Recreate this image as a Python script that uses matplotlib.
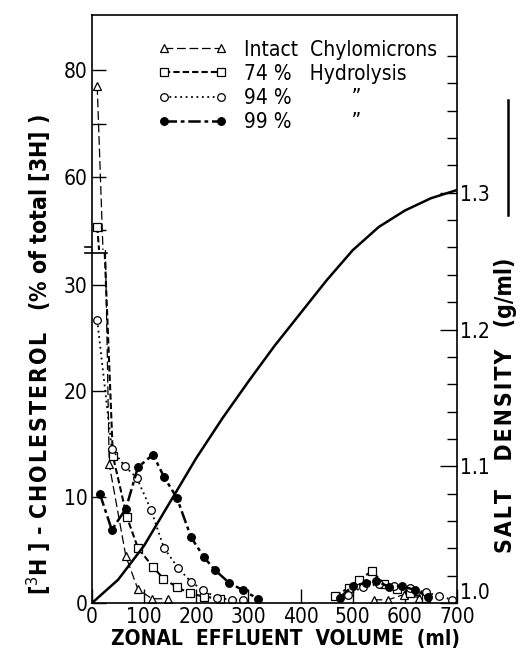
import numpy as np
import matplotlib
matplotlib.use('Agg')
import matplotlib.pyplot as plt
from matplotlib.lines import Line2D

plt.rcParams['font.family'] = ['DejaVu Sans']
plt.rcParams['font.stretch'] = 'condensed'

# ==========================================
# データ
# ==========================================
# Intact chylomicrons (△)
intact_x = [10, 33, 65, 88, 115, 146, np.nan, 540, 568, 598, 628]
intact_y = [77, 13.1, 4.4, 1.3, 0.4, 0.4, np.nan, 0.3, 0.3, 0.8, 0.5]

# 74 % hydrolysis (□)
h74_x = [10, 40, 67, 88, 117, 137, 163, 188, 215, 245, np.nan, 466, 492, 512, 537, 560, 585, 610, 640]
h74_y = [50.7, 13.9, 8.1, 5.2, 3.4, 2.3, 1.5, 0.9, 0.6, 0.4, np.nan, 0.7, 1.4, 2.2, 3.0, 1.8, 1.3, 0.9, 0.5]

# 94 % hydrolysis (○)
h94_x = [10, 38, 63, 86, 113, 138, 165, 190, 213, 240, 268, 290, np.nan,
         490, 520, 550, 580, 610, 640, 665, 690]
h94_y = [26.7, 14.5, 12.9, 11.8, 8.8, 5.2, 3.3, 2.0, 1.2, 0.5, 0.3, 0.3, np.nan,
         0.8, 1.5, 1.8, 1.6, 1.4, 1.0, 0.7, 0.3]

# 99 % hydrolysis (●)
h99_x = [15, 38, 65, 88, 117, 138, 163, 190, 215, 236, 263, 290, 318, np.nan,
         475, 500, 525, 545, 570, 595, 620, 645]
h99_y = [10.3, 6.9, 8.9, 12.8, 14.0, 11.9, 9.9, 6.2, 4.3, 3.1, 1.9, 1.2, 0.4, np.nan,
         0.5, 1.6, 1.9, 2.1, 1.5, 1.6, 1.2, 0.6]

# 塩密度勾配 (実線, 右軸)
dens_x = [0, 50, 100, 150, 200, 250, 300, 350, 400, 450, 500, 550, 600, 650, 700]
dens_y = [1.0, 1.017, 1.042, 1.074, 1.106, 1.135, 1.162, 1.188, 1.212, 1.236, 1.258, 1.275, 1.287, 1.296, 1.302]

x_ticks = [0, 100, 200, 300, 400, 500, 600, 700]

series = [
    (intact_x, intact_y, dict(marker='^', mfc='white', ls=(0, (7, 3)), lw=0.9), 'Intact  Chylomicrons'),
    (h74_x, h74_y, dict(marker='s', mfc='white', ls=(0, (3, 1.5)), lw=1.5), '74 %   Hydrolysis'),
    (h94_x, h94_y, dict(marker='o', mfc='white', ls=(0, (1, 2)), lw=1.3), '94 %          \u201d'),
    (h99_x, h99_y, dict(marker='o', mfc='black', ls=(0, (5, 1.5, 1.5, 1.5)), lw=1.8), '99 %          \u201d'),
]


def spaced(s):
    # 文字間を少し広げる (ヘアスペース)
    return '\u200a'.join(s)


# ==========================================
# レイアウト
# ==========================================
W, H = 522, 659
fig = plt.figure(figsize=(W / 100, H / 100), dpi=100)
left, right = 92 / W, 457 / W
y_bot, y_brk, y_top = 1 - 603 / H, 1 - 250 / H, 1 - 15 / H

ax_lo = fig.add_axes([left, y_bot, right - left, y_brk - y_bot])
ax_hi = fig.add_axes([left, y_brk, right - left, y_top - y_brk], sharex=ax_lo)
ax_d = fig.add_axes([left, y_bot, right - left, y_top - y_bot], sharex=ax_lo)
ax_d.patch.set_alpha(0)

for x, y, st, lab in series:
    for ax in (ax_lo, ax_hi):
        ax.plot(x, y, color='black', mec='black', ms=5.5, mew=0.9, **st, label=lab)

ax_d.plot(dens_x, dens_y, color='black', lw=1.8)

# 軸設定
ax_lo.set_xlim(0, 700)
ax_lo.set_ylim(0, 33.3)
ax_hi.set_ylim(46.35, 90.3)
ax_d.set_ylim(1.0, 1.43)

ax_lo.set_xticks(x_ticks)
ax_lo.set_yticks([0, 10, 20, 30])
ax_hi.set_yticks([50, 60, 70, 80])
ax_hi.set_yticklabels(['', '60', '', '80'])

ax_d.yaxis.tick_right()
ax_d.set_yticks([1.0, 1.1, 1.2, 1.3])
ax_d.set_yticklabels(['1.0', '1.1', '1.2', '1.3'])
ax_d.set_yticks(np.arange(1.0, 1.42, 0.02), minor=True)
ax_d.tick_params(axis='y', which='major', direction='in', length=12, width=1, labelsize=15, pad=2)
ax_d.tick_params(axis='y', which='minor', direction='in', length=7, width=1)
ax_d.tick_params(axis='x', bottom=False, labelbottom=False)
for s in ['left', 'top', 'bottom']:
    ax_d.spines[s].set_visible(False)
ax_d.spines['right'].set_linewidth(1.2)
ax_d.get_yticklabels()[0].set_va('bottom')

for ax in (ax_lo, ax_hi):
    ax.tick_params(axis='both', direction='in', length=10, width=1, labelsize=15, pad=3)
    ax.spines['right'].set_visible(False)
    for s in ax.spines.values():
        s.set_linewidth(1.2)
ax_lo.spines['top'].set_visible(False)
ax_hi.spines['bottom'].set_visible(False)
ax_hi.tick_params(axis='x', bottom=False, labelbottom=False)

# 軸の切れ目マーク
for dy in (-0.009, 0.009):
    ax_lo.plot([-0.02, 0.04], [1 + dy, 1 + dy], transform=ax_lo.transAxes,
               color='black', lw=1.2, clip_on=False)

# ラベル
ax_lo.set_xlabel('ZONAL  EFFLUENT  VOLUME  (ml)', fontsize=15, fontweight='bold', labelpad=1)
ax_lo.xaxis.set_label_coords(0.53, -0.075)
fig.text(0.075, 0.462, '[$^3$H ] - ' + spaced('CHOLESTEROL') + '   (% of total [3H] )', rotation=90,
         ha='center', va='center', fontsize=16.5, fontweight='bold')
fig.text(0.968, 0.385, spaced('SALT') + '    ' + spaced('DENSITY') + '   (g/ml)', rotation=90,
         ha='center', va='center', fontsize=16.5, fontweight='bold')
fig.add_artist(Line2D([0.973, 0.973], [1 - 215 / H, 1 - 100 / H], color='black', lw=1.8))

# 凡例
handles = [Line2D([], [], color='black', mec='black', ms=5.5, mew=0.9, **st) for _, _, st, _ in series]
labels = [lab for _, _, _, lab in series]
ax_hi.legend(handles, labels, loc='upper left', bbox_to_anchor=(0.13, 0.975), numpoints=2,
             handlelength=3.3, frameon=False, fontsize=15, labelspacing=0.2, handletextpad=0.8)

fig.savefig('out.png', dpi=100)
